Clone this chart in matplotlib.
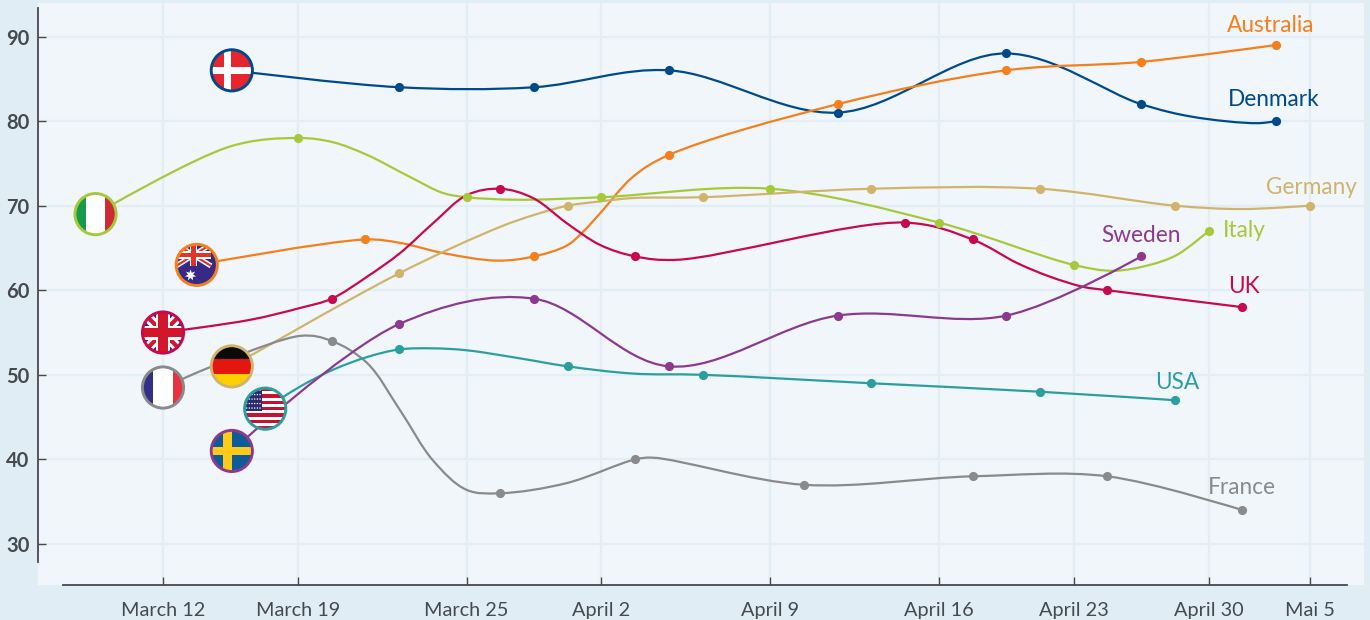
import numpy as np
import matplotlib
matplotlib.use("Agg")
import matplotlib.pyplot as plt
from matplotlib.path import Path
from matplotlib.patches import PathPatch, Circle, Rectangle, Polygon
from matplotlib.transforms import Affine2D

plt.rcParams['font.family'] = ['Lato', 'DejaVu Sans']

W, H = 1370, 620
# value data: day index along the axis and reading
denmark_x = [2.04, 7, 11, 15, 20, 25, 29, 33]
denmark_y = [86, 84, 84, 86, 81, 88, 82, 80]
australia_x = [1, 6, 11, 15, 20, 25, 29, 33]
australia_y = [63, 66, 64, 76, 82, 86, 87, 89]
italy_x = [-2, 4, 9, 13, 18, 23, 27, 31]
italy_y = [69, 78, 71, 71, 72, 68, 63, 67]
germany_x = [2.04, 7, 12, 16, 21, 26, 30, 34]
germany_y = [51, 62, 70, 71, 72, 72, 70, 70]
uk_x = [0, 5, 10, 14, 22, 24, 28, 32]
uk_y = [55, 59, 72, 64, 68, 66, 60, 58]
france_x = [0, 5, 10, 14, 19, 24, 28, 32]
france_y = [48.5, 54, 36, 40, 37, 38, 38, 34]
usa_x = [3.03, 7, 12, 16, 21, 26, 30]
usa_y = [46, 53, 51, 50, 49, 48, 47]
sweden_x = [2.04, 7, 11, 15, 20, 25, 29]
sweden_y = [41, 56, 59, 51, 57, 57, 64]

# unmarked readings where the line runs between its dots
denmark_extra_x = [30.53, 32.44]
denmark_extra_y = [80.5, 79.75]
australia_extra_x = [7.03, 8.3, 9.9, 11.98, 12.45, 12.96, 13.93]
australia_extra_y = [65.6, 64.4, 63.5, 65.3, 66.9, 69.1, 73.4]
italy_extra_x = [1.99, 5.04, 6.05, 7.32, 8.3, 10.5, 28.17, 29.26, 30.07]
italy_extra_y = [77, 77.5, 76.0, 73.4, 71.5, 70.7, 62.3, 63.0, 64.2]
germany_extra_x = [10, 11, 12.96, 13.93, 32.0]
germany_extra_y = [67.5, 68.9, 70.5, 70.9, 69.6]
uk_extra_x = [2.58, 4.06, 6.05, 7.03, 8.0, 9.01, 10.97, 11.98, 12.96, 15.24, 25.33, 26.3, 27.28]
uk_extra_y = [56.5, 57.9, 61.6, 64.4, 67.9, 71.25, 70.9, 67.9, 65.35, 63.6, 63.2, 61.6, 60.4]
france_extra_x = [4.06, 6.05, 7.03, 8.0, 9.0, 11.97, 14.53]
france_extra_y = [54.6, 51.4, 45.8, 39.9, 36.4, 37.2, 40.2]
usa_extra_x = [4.06, 5.04, 6.05, 8.0, 9.01, 10.5, 13.93]
usa_extra_y = [48.6, 50.6, 52.1, 53.13, 52.9, 52.0, 50.15]

xtick_pos = [0, 4, 9, 13, 18, 23, 27, 31, 34]
xtick_labels = ["March 12", "March 19", "March 25", "April 2", "April 9",
                "April 16", "April 23", "April 30", "Mai 5"]
ytick_pos = [30, 40, 50, 60, 70, 80, 90]

BG, PLOT, GRID, AXC = "#e1edf5", "#f0f6fa", "#e3edf5", "#454a4f"
SX, SY = 33.73, 8.458
X0, Y90 = 163.0, 36.5
L, R, T, B = 38, 1364, 3, 585
ALPHA = 0.5

fig = plt.figure(figsize=(W/100, H/100), dpi=100, facecolor=BG)
ax = fig.add_axes([L/W, 1-B/H, (R-L)/W, (B-T)/H], facecolor=PLOT)
ax.set_xlim((L-X0)/SX, (R-X0)/SX)
ax.set_ylim(90-(B-Y90)/SY, 90-(T-Y90)/SY)


def catmull_path(xs, ys):
    """Catmull-Rom spline as Bezier segments, computed in pixel space.
    Like d3, the outer control point of the first and last segment sits on the end point."""
    order = np.argsort(xs)
    p = np.column_stack([np.array(xs, float)[order]*SX, np.array(ys, float)[order]*SY])
    n = len(p)
    verts, codes = [p[0]/[SX, SY]], [Path.MOVETO]
    a = ALPHA
    for i in range(n-1):
        p1, p2 = p[i], p[i+1]
        d2 = np.hypot(*(p2-p1))
        if i == 0:
            c1 = p1
        else:
            p0 = p[i-1]
            d1 = np.hypot(*(p1-p0))
            c1 = ((p1*(2*d1**(2*a)+3*d1**a*d2**a+d2**(2*a))
                   - p0*d2**(2*a) + p2*d1**(2*a)) / (3*d1**a*(d1**a+d2**a)))
        if i == n-2:
            c2 = p2
        else:
            p3 = p[i+2]
            d3 = np.hypot(*(p3-p2))
            c2 = ((p2*(2*d3**(2*a)+3*d3**a*d2**a+d2**(2*a))
                   - p3*d2**(2*a) + p1*d3**(2*a)) / (3*d3**a*(d3**a+d2**a)))
        for v in (c1, c2, p2):
            verts.append(v/[SX, SY])
            codes.append(Path.CURVE4)
    return Path(verts, codes)


ax.grid(True, color=GRID, lw=1.6, zorder=0)
ax.set_axisbelow(True)
ax.set_xticks(xtick_pos, xtick_labels)
ax.set_yticks(ytick_pos)
for s in ("top", "right"):
    ax.spines[s].set_visible(False)
for s in ("left", "bottom"):
    ax.spines[s].set_color(AXC)
    ax.spines[s].set_linewidth(1.3)
ax.spines["bottom"].set_bounds((63-X0)/SX, (1347-X0)/SX)
ax.spines["left"].set_bounds(90-(562-Y90)/SY, 90-(8-Y90)/SY)
ax.tick_params(axis="x", direction="in", length=6, width=1.0, color=AXC,
               labelsize=14.3, labelcolor="#454a4f", pad=12)
ax.tick_params(axis="y", direction="in", length=6, width=1.0, color=AXC,
               labelsize=14.5, labelcolor="#454a4f", pad=6)
for t in ax.get_yticklabels():
    t.set_fontweight("bold")

series = [
    ("Denmark", denmark_x, denmark_y, denmark_extra_x, denmark_extra_y, "#004a8a", (1274, 99)),
    ("Australia", australia_x, australia_y, australia_extra_x, australia_extra_y, "#f47f1c", (1271, 25)),
    ("Italy", italy_x, italy_y, italy_extra_x, italy_extra_y, "#a6c93a", (1244, 230)),
    ("Germany", germany_x, germany_y, germany_extra_x, germany_extra_y, "#d0b46c", (1311, 187)),
    ("UK", uk_x, uk_y, uk_extra_x, uk_extra_y, "#c70a4d", (1244, 286)),
    ("France", france_x, france_y, france_extra_x, france_extra_y, "#8a8a8a", (1242, 487)),
    ("USA", usa_x, usa_y, usa_extra_x, usa_extra_y, "#2b9f9f", (1177, 382)),
    ("Sweden", sweden_x, sweden_y, [], [], "#8b3a90", (1141, 235)),
]
for name, xs, ys, ex, ey, c, (lx, ly) in series:
    ax.add_patch(PathPatch(catmull_path(xs+ex, ys+ey), fc="none", ec=c, lw=1.6, zorder=3))
    ax.plot(xs[1:], ys[1:], ls="none", marker="o", ms=6.6, mfc=c, mec=c, mew=0, zorder=4)
    ax.text((lx-X0)/SX, 90-(ly-Y90)/SY, name, color=c, fontsize=16.3, ha="center", va="center", zorder=6)

RAD = 20.6
zbase = [8]


# ---- flags, drawn in a unit-circle frame centred on each first data point ----
def flag_base(x, y):
    cx, cy = ax.transData.transform((x, y))
    tr = Affine2D().scale(RAD).translate(cx, cy)
    clip = Circle((0, 0), 1, transform=tr)

    def add(p):
        p.set_transform(tr)
        p.set_clip_path(clip)
        p.set_zorder(zbase[0])
        p.set_linewidth(0)
        ax.add_patch(p)
    return add


def rect(x0, y0, x1, y1, c):
    return Rectangle((x0, y0), x1-x0, y1-y0, fc=c, ec="none")


def ring(x, y, c):
    cx, cy = ax.transData.transform((x, y))
    tr = Affine2D().scale(RAD).translate(cx, cy)
    ax.add_patch(Circle((0, 0), 1, transform=tr, fc="none", ec=c, lw=2.1, zorder=zbase[0]+0.5))


def poly(pts, c):
    return Polygon(pts, closed=True, fc=c, ec="none")


def union_jack(add, x0, y0, x1, y1, blue, red):
    h = y1-y0
    add(rect(x0, y0, x1, y1, blue))
    t = 0.12*h
    for a, b in (((x0, y0), (x1, y1)), ((x0, y1), (x1, y0))):
        a = np.array(a, float)
        b = np.array(b, float)
        d = b-a
        n = np.array([-d[1], d[0]])/np.hypot(*d)
        add(poly([a+n*t, b+n*t, b-n*t, a-n*t], "white"))
        n2 = n*t*0.42
        add(poly([a+n2, b+n2, b-n2, a-n2], red))
    cx, cy = (x0+x1)/2, (y0+y1)/2
    add(rect(cx-0.17*h, y0, cx+0.17*h, y1, "white"))
    add(rect(x0, cy-0.17*h, x1, cy+0.17*h, "white"))
    add(rect(cx-0.11*h, y0, cx+0.11*h, y1, red))
    add(rect(x0, cy-0.11*h, x1, cy+0.11*h, red))


def draw_italy(x, y):
    add = flag_base(x, y)
    add(rect(-1, -1, -0.48, 1, "#169b4c"))
    add(rect(-0.48, -1, 0.45, 1, "#ffffff"))
    add(rect(0.45, -1, 1, 1, "#ce2b37"))


def draw_france(x, y):
    add = flag_base(x, y)
    add(rect(-1, -1, -0.5, 1, "#322f86"))
    add(rect(-0.5, -1, 0.47, 1, "#ffffff"))
    add(rect(0.47, -1, 1, 1, "#e9313f"))


def draw_germany(x, y):
    add = flag_base(x, y)
    add(rect(-1, 0.34, 1, 1, "#0a0a0a"))
    add(rect(-1, -0.39, 1, 0.34, "#e3170f"))
    add(rect(-1, -1, 1, -0.39, "#ffcf00"))


def draw_sweden(x, y):
    add = flag_base(x, y)
    add(rect(-1, -1, 1, 1, "#0d5c9a"))
    add(rect(-0.42, -1, 0.0, 1, "#fecb1c"))
    add(rect(-1, -0.2, 1, 0.2, "#fecb1c"))


def draw_denmark(x, y):
    add = flag_base(x, y)
    add(rect(-1, -1, 1, 1, "#e8252f"))
    add(rect(-0.4, -1, -0.05, 1, "#ffffff"))
    add(rect(-1, -0.18, 1, 0.18, "#ffffff"))


def draw_uk(x, y):
    add = flag_base(x, y)
    union_jack(add, -1, -1, 1, 1, "#2f2a7f", "#d2172d")


def draw_australia(x, y):
    add = flag_base(x, y)
    add(rect(-1, -1, 1, 1, "#362a86"))
    union_jack(add, -1, -0.05, 0.69, 1, "#362a86", "#e2332a")
    ang = np.arange(14)*np.pi/7+np.pi/2
    rad = np.where(np.arange(14) % 2 == 0, 0.28, 0.13)
    add(poly(np.column_stack([-0.3+rad*np.cos(ang), -0.5+rad*np.sin(ang)]), "#ffffff"))


def draw_usa(x, y):
    add = flag_base(x, y)
    add(rect(-1, -1, 1, 1, "#ffffff"))
    ys = np.linspace(-1, 1, 14)
    for i in range(0, 13, 2):
        add(rect(-1, ys[i], 1, ys[i+1], "#c4122f"))
    add(rect(-1, -0.1, -0.16, 1, "#2b2a70"))
    sx, sy = np.meshgrid(np.linspace(-0.9, -0.25, 6), np.linspace(0.03, 0.9, 5))
    for a, b in zip(sx.ravel(), sy.ravel()):
        add(Circle((a, b), 0.035, fc="#ffffff", ec="none"))


flags = [
    (draw_denmark, denmark_x, denmark_y, "#004a8a"),
    (draw_italy, italy_x, italy_y, "#a6c93a"),
    (draw_australia, australia_x, australia_y, "#f47f1c"),
    (draw_uk, uk_x, uk_y, "#c70a4d"),
    (draw_france, france_x, france_y, "#8a8a8a"),
    (draw_germany, germany_x, germany_y, "#d0b46c"),
    (draw_sweden, sweden_x, sweden_y, "#8b3a90"),
    (draw_usa, usa_x, usa_y, "#2b9f9f"),
]
for fn, xs, ys, c in flags:
    fn(xs[0], ys[0])
    ring(xs[0], ys[0], c)
    zbase[0] += 1

fig.savefig("out.png", dpi=100, facecolor=BG)
